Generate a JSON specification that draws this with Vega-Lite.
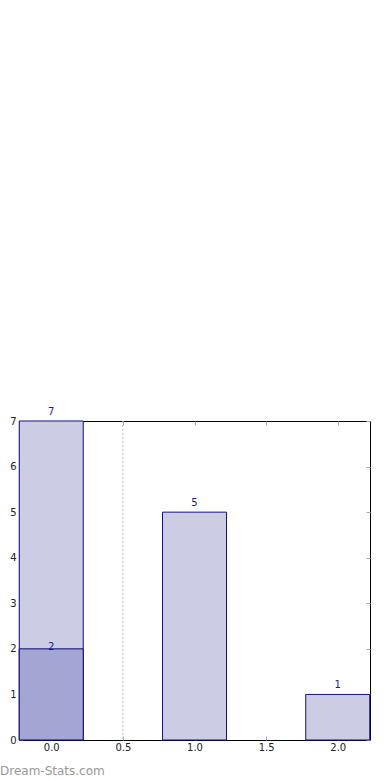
{
  "$schema": "https://vega.github.io/schema/vega-lite/v6.json",
  "autosize": "none",
  "width": 351,
  "height": 319,
  "padding": {"left": 19, "top": 421, "right": 20, "bottom": 40},
  "background": "white",
  "config": {
    "font": "DejaVu Sans",
    "view": {"stroke": "black", "strokeWidth": 1},
    "axis": {"domain": false, "grid": false, "tickColor": "#aaaaaa", "tickSize": -4, "tickWidth": 1, "labelFont": "DejaVu Sans", "labelFontSize": 10, "labelColor": "#222222", "title": null}
  },
  "title": {"text": "Dream-Stats.com", "orient": "bottom", "anchor": "start", "frame": "group", "dx": -19, "offset": 14, "font": "DejaVu Sans", "fontSize": 12, "fontWeight": "normal", "color": "#999999"},
  "datasets": {
    "bars": [
      {"x": 0, "count": 7, "group": "all"},
      {"x": 1, "count": 5, "group": "all"},
      {"x": 2, "count": 1, "group": "all"},
      {"x": 0, "count": 2, "group": "subset"}
    ],
    "cut": [{"x": 0.5}]
  },
  "layer": [
    {
      "data": {"name": "cut"},
      "mark": {"type": "rule", "color": "#c0c0c0", "strokeDash": [2, 2], "strokeWidth": 1},
      "encoding": {
        "x": {"field": "x", "type": "quantitative", "scale": {"domain": [-0.225, 2.225], "nice": false, "zero": false, "padding": 0}, "axis": {"orient": "top", "labels": false, "values": [0, 0.5, 1, 1.5, 2]}}
      }
    },
    {
      "data": {"name": "bars"},
      "transform": [{"filter": "datum.group === 'all'"}],
      "mark": {"type": "bar", "width": 64, "fill": "#ccccE5", "stroke": "#10108f", "strokeWidth": 1},
      "encoding": {
        "x": {"field": "x", "type": "quantitative", "scale": {"domain": [-0.225, 2.225], "nice": false, "zero": false, "padding": 0}, "axis": {"orient": "bottom", "values": [0, 0.5, 1, 1.5, 2], "format": ".1f", "labelPadding": 6}},
        "y": {"field": "count", "type": "quantitative", "scale": {"domain": [0, 7], "nice": false, "padding": 0}, "axis": {"orient": "left", "values": [0, 1, 2, 3, 4, 5, 6, 7], "labelPadding": 7}}
      }
    },
    {
      "data": {"name": "bars"},
      "transform": [{"filter": "datum.group === 'subset'"}],
      "mark": {"type": "bar", "width": 64, "fill": "#a3a5d3", "stroke": "#0a0a70", "strokeWidth": 1},
      "encoding": {
        "x": {"field": "x", "type": "quantitative", "scale": {"domain": [-0.225, 2.225], "nice": false, "zero": false, "padding": 0}, "axis": null},
        "y": {"field": "count", "type": "quantitative", "scale": {"domain": [0, 7], "nice": false, "padding": 0}, "axis": {"orient": "right", "labels": false, "values": [0, 1, 2, 3, 4, 5, 6, 7]}}
      }
    },
    {
      "data": {"name": "bars"},
      "transform": [{"filter": "datum.group === 'all'"}],
      "mark": {"type": "text", "dy": -4, "baseline": "bottom", "fontSize": 10, "color": "#1a1a8c", "font": "DejaVu Sans"},
      "encoding": {
        "x": {"field": "x", "type": "quantitative", "scale": {"domain": [-0.225, 2.225], "nice": false, "zero": false, "padding": 0}, "axis": null},
        "y": {"field": "count", "type": "quantitative", "scale": {"domain": [0, 7], "nice": false, "padding": 0}, "axis": null},
        "text": {"field": "count", "type": "quantitative"}
      }
    },
    {
      "data": {"name": "bars"},
      "transform": [{"filter": "datum.group === 'subset'"}],
      "mark": {"type": "text", "dy": 3, "baseline": "bottom", "fontSize": 10, "color": "#1a1a8c", "font": "DejaVu Sans"},
      "encoding": {
        "x": {"field": "x", "type": "quantitative", "scale": {"domain": [-0.225, 2.225], "nice": false, "zero": false, "padding": 0}, "axis": null},
        "y": {"field": "count", "type": "quantitative", "scale": {"domain": [0, 7], "nice": false, "padding": 0}, "axis": null},
        "text": {"field": "count", "type": "quantitative"}
      }
    }
  ],
  "resolve": {"axis": {"x": "independent", "y": "independent"}}
}
